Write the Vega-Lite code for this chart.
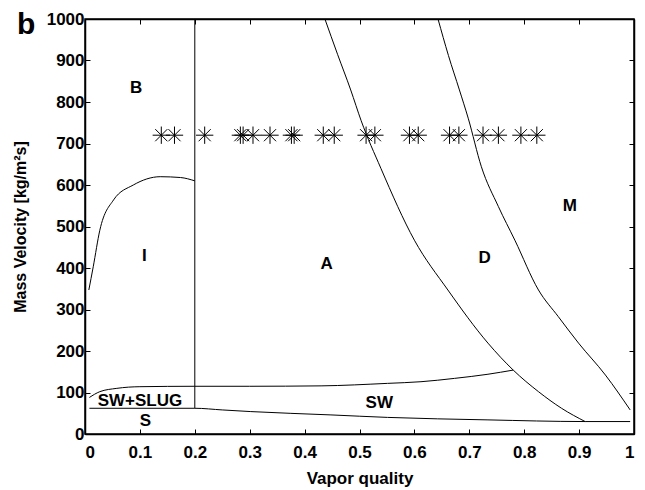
{
  "$schema": "https://vega.github.io/schema/vega-lite/v6.json",
  "width": 549,
  "height": 415,
  "autosize": "none",
  "padding": {"left": 85, "top": 19, "right": 11, "bottom": 56},
  "background": "white",
  "config": {
    "view": {"stroke": "black", "strokeWidth": 1.5},
    "font": "Liberation Sans"
  },
  "title": {
    "text": "b",
    "orient": "none",
    "anchor": "start",
    "frame": "group",
    "fontSize": 30,
    "fontWeight": "bold",
    "font": "Liberation Sans",
    "color": "black",
    "baseline": "alphabetic",
    "dx": -68,
    "dy": 15
  },
  "datasets": {
    "curves": [
      {"c": "v", "i": 0, "x": 0.2, "y": 62},
      {"c": "v", "i": 1, "x": 0.2, "y": 1000},
      {"c": "ib", "i": 0, "x": 0.007, "y": 347},
      {"c": "ib", "i": 1, "x": 0.015, "y": 403},
      {"c": "ib", "i": 2, "x": 0.027, "y": 491},
      {"c": "ib", "i": 3, "x": 0.052, "y": 564},
      {"c": "ib", "i": 4, "x": 0.088, "y": 600},
      {"c": "ib", "i": 5, "x": 0.137, "y": 620},
      {"c": "ib", "i": 6, "x": 0.174, "y": 618},
      {"c": "ib", "i": 7, "x": 0.2, "y": 610},
      {"c": "sw", "i": 0, "x": 0.008, "y": 88},
      {"c": "sw", "i": 1, "x": 0.027, "y": 102},
      {"c": "sw", "i": 2, "x": 0.058, "y": 110},
      {"c": "sw", "i": 3, "x": 0.1, "y": 114},
      {"c": "sw", "i": 4, "x": 0.2, "y": 115},
      {"c": "sw", "i": 5, "x": 0.3, "y": 115},
      {"c": "sw", "i": 6, "x": 0.43, "y": 116},
      {"c": "sw", "i": 7, "x": 0.551, "y": 122},
      {"c": "sw", "i": 8, "x": 0.612, "y": 126},
      {"c": "sw", "i": 9, "x": 0.673, "y": 134},
      {"c": "sw", "i": 10, "x": 0.734, "y": 144},
      {"c": "sw", "i": 11, "x": 0.78, "y": 154},
      {"c": "s", "i": 0, "x": 0.008, "y": 62},
      {"c": "s", "i": 1, "x": 0.2, "y": 62},
      {"c": "s", "i": 2, "x": 0.25, "y": 58},
      {"c": "s", "i": 3, "x": 0.302, "y": 54},
      {"c": "s", "i": 4, "x": 0.448, "y": 46},
      {"c": "s", "i": 5, "x": 0.551, "y": 40},
      {"c": "s", "i": 6, "x": 0.734, "y": 34},
      {"c": "s", "i": 7, "x": 0.911, "y": 30},
      {"c": "s", "i": 8, "x": 0.993, "y": 30},
      {"c": "a", "i": 0, "x": 0.437, "y": 1000},
      {"c": "a", "i": 1, "x": 0.46, "y": 915},
      {"c": "a", "i": 2, "x": 0.484, "y": 829},
      {"c": "a", "i": 3, "x": 0.503, "y": 755},
      {"c": "a", "i": 4, "x": 0.539, "y": 640},
      {"c": "a", "i": 5, "x": 0.6, "y": 467},
      {"c": "a", "i": 6, "x": 0.661, "y": 347},
      {"c": "a", "i": 7, "x": 0.734, "y": 219},
      {"c": "a", "i": 8, "x": 0.78, "y": 154},
      {"c": "a", "i": 9, "x": 0.826, "y": 102},
      {"c": "a", "i": 10, "x": 0.868, "y": 62},
      {"c": "a", "i": 11, "x": 0.911, "y": 30},
      {"c": "dm", "i": 0, "x": 0.643, "y": 1000},
      {"c": "dm", "i": 1, "x": 0.662, "y": 912},
      {"c": "dm", "i": 2, "x": 0.682, "y": 829},
      {"c": "dm", "i": 3, "x": 0.698, "y": 761},
      {"c": "dm", "i": 4, "x": 0.722, "y": 644},
      {"c": "dm", "i": 5, "x": 0.753, "y": 548},
      {"c": "dm", "i": 6, "x": 0.783, "y": 467},
      {"c": "dm", "i": 7, "x": 0.826, "y": 347},
      {"c": "dm", "i": 8, "x": 0.862, "y": 283},
      {"c": "dm", "i": 9, "x": 0.899, "y": 219},
      {"c": "dm", "i": 10, "x": 0.948, "y": 142},
      {"c": "dm", "i": 11, "x": 0.993, "y": 58}
    ],
    "stars": [
      {"x": 0.139, "y": 720}, {"x": 0.163, "y": 720}, {"x": 0.218, "y": 720},
      {"x": 0.283, "y": 720}, {"x": 0.288, "y": 720}, {"x": 0.306, "y": 720},
      {"x": 0.337, "y": 720}, {"x": 0.376, "y": 720}, {"x": 0.381, "y": 720},
      {"x": 0.434, "y": 720}, {"x": 0.454, "y": 720}, {"x": 0.512, "y": 720},
      {"x": 0.528, "y": 720}, {"x": 0.591, "y": 720}, {"x": 0.607, "y": 720},
      {"x": 0.664, "y": 720}, {"x": 0.681, "y": 720}, {"x": 0.725, "y": 720},
      {"x": 0.753, "y": 720}, {"x": 0.794, "y": 720}, {"x": 0.823, "y": 720}
    ],
    "labels": [
      {"x": 0.093, "y": 834, "t": "B"},
      {"x": 0.108, "y": 429, "t": "I"},
      {"x": 0.44, "y": 410, "t": "A"},
      {"x": 0.728, "y": 424, "t": "D"},
      {"x": 0.883, "y": 549, "t": "M"},
      {"x": 0.1, "y": 80, "t": "SW+SLUG"},
      {"x": 0.11, "y": 31, "t": "S"},
      {"x": 0.536, "y": 75, "t": "SW"}
    ]
  },
  "resolve": {"axis": {"x": "independent", "y": "independent"}},
  "layer": [
    {
      "data": {"name": "curves"},
      "mark": {"type": "line", "color": "black", "strokeWidth": 1, "interpolate": "monotone"},
      "encoding": {
        "x": {
          "field": "x", "type": "quantitative",
          "scale": {"domain": [0, 1], "nice": false, "zero": false},
          "axis": {"orient": "bottom", "values": [0, 0.1, 0.2, 0.3, 0.4, 0.5, 0.6, 0.7, 0.8, 0.9, 1], "format": "~g", "title": "Vapor quality",
            "grid": false, "domainColor": "black", "domainWidth": 1.5, "tickColor": "black", "tickSize": -5, "tickWidth": 1,
            "labelColor": "black", "labelFont": "Liberation Sans", "labelFontWeight": "bold", "labelFontSize": 17, "labelPadding": 15,
            "titleColor": "black", "titleFont": "Liberation Sans", "titleFontWeight": "bold", "titleFontSize": 17, "titlePadding": 10}
        },
        "y": {
          "field": "y", "type": "quantitative",
          "scale": {"domain": [0, 1000], "nice": false},
          "axis": {"orient": "left", "values": [0, 100, 200, 300, 400, 500, 600, 700, 800, 900, 1000], "format": "d", "title": "Mass Velocity [kg/m²s]",
            "grid": false, "domainColor": "black", "domainWidth": 1.5, "tickColor": "black", "tickSize": -5, "tickWidth": 1,
            "labelColor": "black", "labelFont": "Liberation Sans", "labelFontWeight": "bold", "labelFontSize": 17, "labelPadding": 6,
            "titleColor": "black", "titleFont": "Liberation Sans", "titleFontWeight": "bold", "titleFontSize": 16, "titlePadding": 18}
        },
        "detail": {"field": "c"},
        "order": {"field": "i"}
      }
    },
    {
      "data": {"name": "stars"},
      "mark": {"type": "point", "shape": "M-1,0L1,0M0,-1L0,1M-0.7,-0.7L0.7,0.7M-0.7,0.7L0.7,-0.7", "filled": false, "size": 300, "stroke": "black", "strokeWidth": 1, "opacity": 1},
      "encoding": {
        "x": {"field": "x", "type": "quantitative", "axis": {"orient": "top", "values": [0, 0.1, 0.2, 0.3, 0.4, 0.5, 0.6, 0.7, 0.8, 0.9, 1], "labels": false, "title": null,
          "grid": false, "domainColor": "black", "domainWidth": 1.5, "tickColor": "black", "tickSize": -5, "tickWidth": 1}},
        "y": {"field": "y", "type": "quantitative", "axis": {"orient": "right", "values": [0, 100, 200, 300, 400, 500, 600, 700, 800, 900, 1000], "labels": false, "title": null,
          "grid": false, "domainColor": "black", "domainWidth": 1.5, "tickColor": "black", "tickSize": -5, "tickWidth": 1}}
      }
    },
    {
      "data": {"name": "labels"},
      "mark": {"type": "text", "font": "Liberation Sans", "fontWeight": "bold", "fontSize": 17, "color": "black", "align": "center", "baseline": "middle"},
      "encoding": {
        "x": {"field": "x", "type": "quantitative", "axis": null},
        "y": {"field": "y", "type": "quantitative", "axis": null},
        "text": {"field": "t"}
      }
    }
  ]
}
